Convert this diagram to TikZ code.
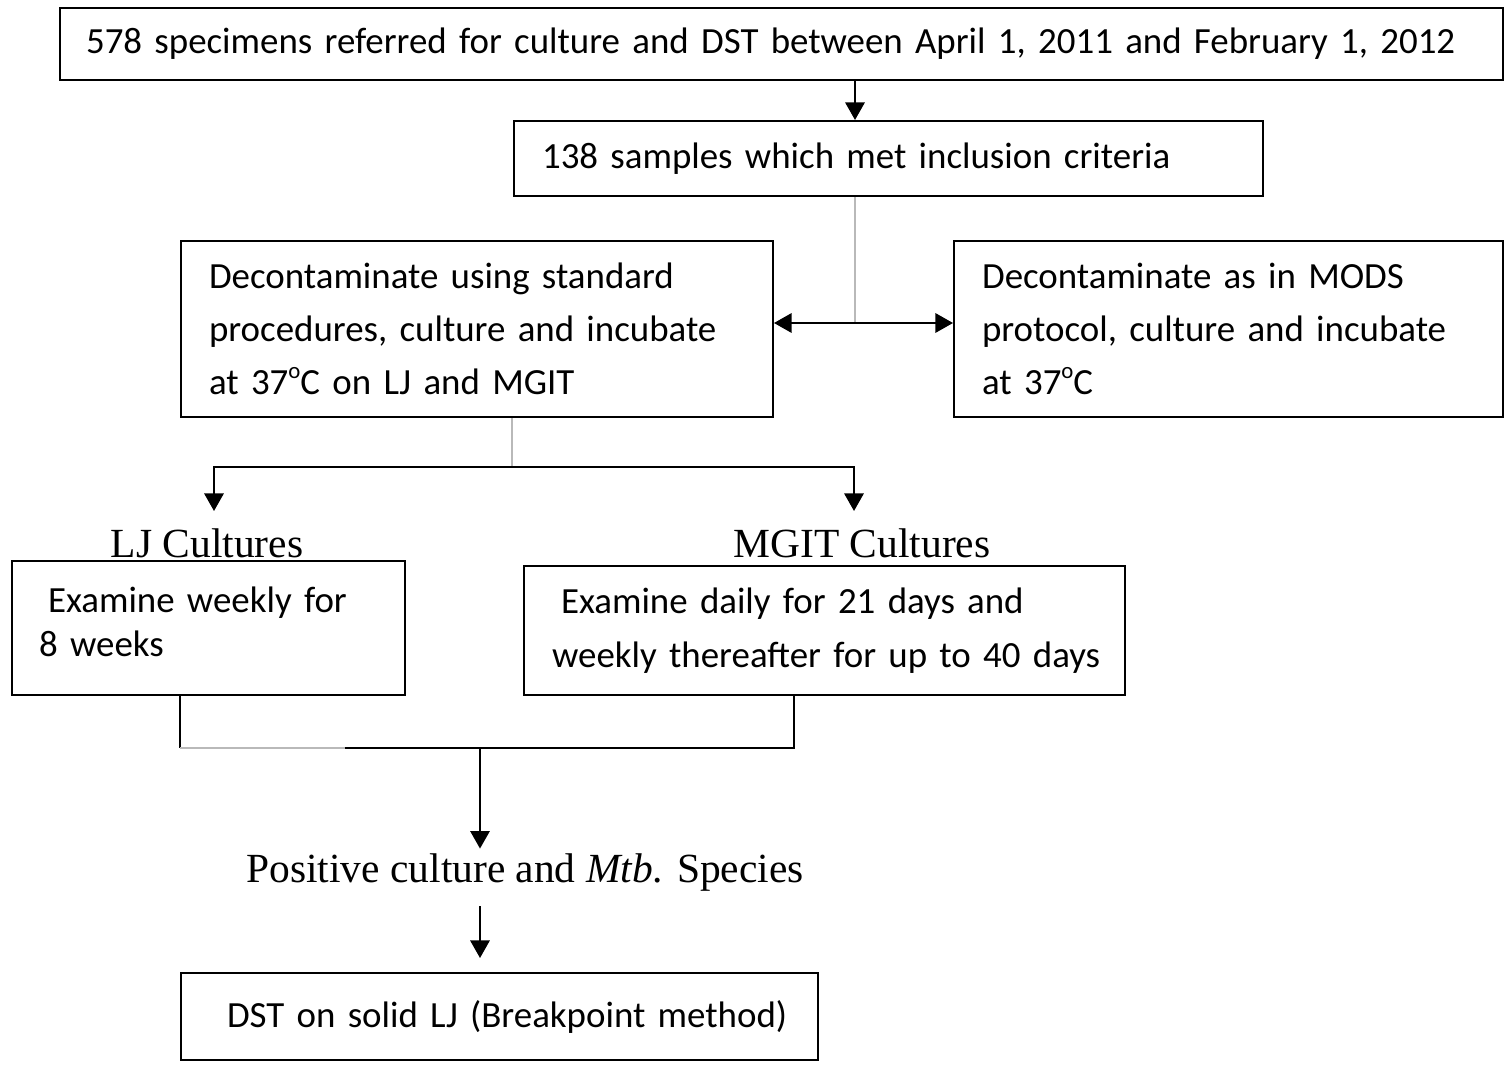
\documentclass[tikz,border=0pt]{standalone}
\usepackage{fontspec}
\setmainfont{Liberation Serif}
\newfontfamily\calfont{Carlito}
\usetikzlibrary{arrows.meta,positioning}
\newcommand{\degsign}{\raisebox{9pt}{\fontsize{13}{13}\selectfont o}}

\begin{document}
\begin{tikzpicture}[x=0.02cm,y=-0.02cm,
    box/.style={draw,line width=1.2pt,anchor=north west,align=left,
      inner ysep=0pt,font=\calfont\fontsize{21}{30}\selectfont},
    heading/.style={font=\fontsize{23.6}{28}\selectfont,inner sep=0pt},
    link/.style={line width=1.2pt},
    faint/.style={line width=1.2pt,gray!55},
    arr/.style={link,-{Triangle[length=10pt,width=11pt]}},
    twoarr/.style={link,{Triangle[length=10pt,width=11pt]}-{Triangle[length=10pt,width=11pt]}}]
  \useasboundingbox (0,0) rectangle (1508,1067);

  % boxes
  \node[box,text width=27.82cm,inner xsep=0.52cm,minimum height=1.44cm] (spec) at (59,7)
    {\mbox{578 specimens referred for culture and DST between April 1, 2011 and February 1, 2012}};
  \node[box,text width=13.86cm,inner xsep=0.56cm,minimum height=1.5cm] (incl) at (513,120)
    {138 samples which met inclusion criteria};
  \node[box,text width=10.72cm,inner xsep=0.56cm,minimum height=3.52cm] (decL) at (180,240)
    {\mbox{Decontaminate using standard}\\\mbox{procedures, culture and incubate}\\\mbox{at 37\degsign C on LJ and MGIT}};
  \node[box,text width=9.86cm,inner xsep=0.56cm,minimum height=3.52cm] (decR) at (953,240)
    {\mbox{Decontaminate as in MODS}\\\mbox{protocol, culture and incubate}\\\mbox{at 37\degsign C}};
  \node[box,text width=6.78cm,inner xsep=0.54cm,minimum height=2.68cm,
    font=\calfont\fontsize{21}{25}\selectfont] (ljbox) at (11,560)
    {\mbox{\hspace{0.18cm}Examine weekly for}\\\mbox{8 weeks}\\[-18pt]\mbox{}};
  \node[box,text width=10.9cm,inner xsep=0.56cm,minimum height=2.58cm,
    font=\calfont\fontsize{21}{31}\selectfont] (mgitbox) at (523,565)
    {\mbox{\hspace{0.18cm}Examine daily for 21 days and}\\\mbox{weekly thereafter for up to 40 days}};
  \node[box,text width=10.9cm,inner xsep=0.92cm,minimum height=1.74cm] (dst) at (180,972)
    {\mbox{DST on solid LJ (Breakpoint method)}};

  % plain labels
  \node[heading] (ljlab) at (207,543) {LJ Cultures};
  \node[heading] (mgitlab) at (862,543) {MGIT Cultures};
  \node[heading] (poslab) at (525,873) {Positive culture and \textit{Mtb}. Species};

  % junctions
  \coordinate (splitA) at (855,323);
  \coordinate (splitB) at (512,467);
  \coordinate (ljin) at (214,511);
  \coordinate (mgin) at (854,511);
  \coordinate (mergeL) at (180,748);
  \coordinate (mergeR) at (794,748);
  \coordinate (mergeM) at (480,748);
  \coordinate (fadeEnd) at (345,748);

  % connectors
  \draw[arr] (spec.south -| splitA) -- (incl.north -| splitA);
  \draw[faint] (incl.south -| splitA) -- (splitA);
  \draw[twoarr] (decL.east |- splitA) -- (decR.west |- splitA);
  \draw[faint] (decL.south -| splitB) -- (splitB);
  \draw[arr] (splitB) -| (ljin);
  \draw[arr] (splitB) -| (mgin);
  \draw[link] (ljbox.south -| mergeL) -- (mergeL);
  \draw[faint] (mergeL) -- (fadeEnd);
  \draw[link] (fadeEnd) -- (mergeR) -- (mgitbox.south -| mergeR);
  \draw[arr,shorten >=3pt] (mergeM) -- (poslab.north -| mergeM);
  \draw[arr,shorten >=0.28cm] ([yshift=-8pt]poslab.south -| mergeM) -- (dst.north -| mergeM);
\end{tikzpicture}
\end{document}
